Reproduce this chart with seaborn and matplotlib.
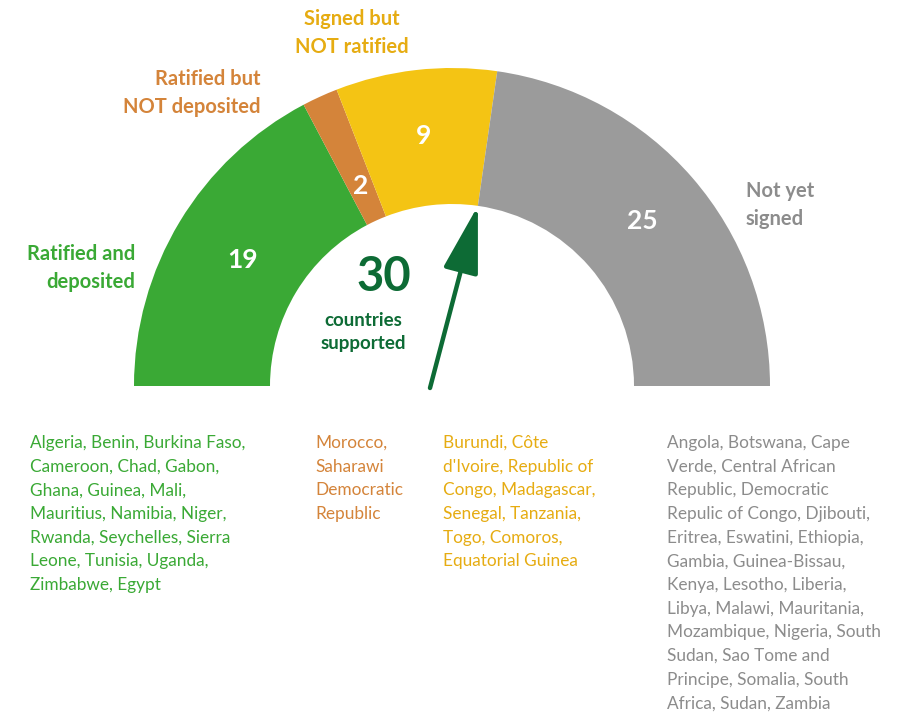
import matplotlib
matplotlib.use("Agg")
import matplotlib.pyplot as plt
import seaborn as sns
import numpy as np

# Data
categories = ["Ratified and\ndeposited", "Ratified but\nNOT deposited", "Signed but\nNOT ratified", "Not yet\nsigned"]
counts = [19, 2, 9, 25]
supported = 30
colors = ["#3aa935", "#d4843a", "#f4c414", "#9b9b9b"]
text_colors = ["#3aa935", "#d4843a", "#e6ac12", "#8c8c8c"]
country_lists = [
    "Algeria, Benin, Burkina Faso,\nCameroon, Chad, Gabon,\nGhana, Guinea, Mali,\nMauritius, Namibia, Niger,\n"
    "Rwanda, Seychelles, Sierra\nLeone, Tunisia, Uganda,\nZimbabwe, Egypt",
    "Morocco,\nSaharawi\nDemocratic\nRepublic",
    "Burundi, Côte\nd'Ivoire, Republic of\nCongo, Madagascar,\nSenegal, Tanzania,\nTogo, Comoros,\nEquatorial Guinea",
    "Angola, Botswana, Cape\nVerde, Central African\nRepublic, Democratic\nRepulic of Congo, Djibouti,\n"
    "Eritrea, Eswatini, Ethiopia,\nGambia, Guinea-Bissau,\nKenya, Lesotho, Liberia,\nLibya, Malawi, Mauritania,\n"
    "Mozambique, Nigeria, South\nSudan, Sao Tome and\nPrincipe, Somalia, South\nAfrica, Sudan, Zambia",
]

sns.set_theme(style="white")
plt.rcParams["font.family"] = ["Lato", "DejaVu Sans"]

W, H = 904, 719
fig = plt.figure(figsize=(W / 100, H / 100), dpi=100)
ax = fig.add_axes([0, 0, 1, 1])

# work in pixel units, y measured from the top
def Y(y):
    return H - y

cx, cy = 452, 386
R, ring = 318, 136
total = sum(counts)

wedges, _ = ax.pie(counts + [total], colors=colors + ["white"], startangle=180, counterclock=False,
                   center=(cx, Y(cy)), radius=R, wedgeprops=dict(width=ring, linewidth=0))
wedges[-1].set_visible(False)

# numbers inside the ring
acc = 0
rfrac = [0.77, 0.69, 0.79, 0.79]
for n, rf in zip(counts, rfrac):
    mid = np.deg2rad(180 - (acc + n / 2) / total * 180)
    acc += n
    ax.text(cx + R * rf * np.cos(mid), Y(cy) + R * rf * np.sin(mid), str(n), color="white",
            fontsize=19, fontweight="bold", ha="center", va="center")

# category labels
lab = dict(fontsize=14.5, fontweight="bold", va="center", linespacing=1.5)
ax.text(135, Y(268), categories[0], color=text_colors[0], ha="right", **lab)
ax.text(261, Y(93), categories[1], color=text_colors[1], ha="right", **lab)
ax.text(352, Y(33), categories[2], color=text_colors[2], ha="center", **lab)
ax.text(746, Y(205), categories[3], color=text_colors[3], ha="left", **lab)

# pointer at the signed / not signed boundary
ang = np.deg2rad(180 - sum(counts[:3]) / total * 180)
tip = (cx + (R - ring) * np.cos(ang), Y(cy) + (R - ring) * np.sin(ang))
ax.annotate("", xy=tip, xytext=(430, Y(388)),
            arrowprops=dict(arrowstyle="-|>,head_length=1.9,head_width=0.5", color="#0d6b35",
                            lw=3.2, mutation_scale=22, shrinkA=0, shrinkB=0))

ax.text(384, Y(277), str(supported), color="#0d6b35", fontsize=34, fontweight="bold",
        ha="center", va="center")
ax.text(363, Y(332), "countries\nsupported", color="#0d6b35", fontsize=13.5, fontweight="bold",
        ha="center", va="center", linespacing=1.4)

# country lists
list_x = [30, 315, 443, 667]
for x, txt, c in zip(list_x, country_lists, text_colors):
    ax.text(x, Y(435), txt, color=c, fontsize=12.4, ha="left", va="top", linespacing=1.59)

ax.set_xlim(0, W)
ax.set_ylim(0, H)
ax.set_aspect("equal")
ax.axis("off")

fig.savefig("out.png", dpi=100)
